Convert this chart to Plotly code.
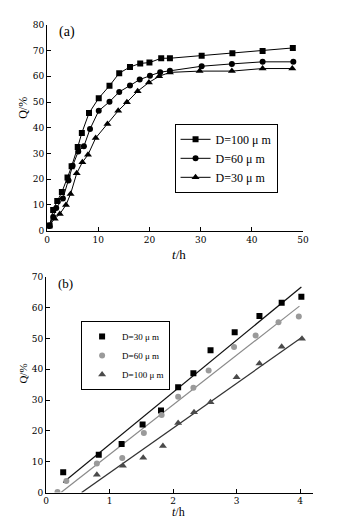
import plotly.graph_objects as go

# ---------- (a) release curves ----------
a_t100 = [0.5, 1.2, 2.0, 2.9, 4.0, 4.8, 6.0, 6.8, 8.2, 10.1, 12.2, 14.1, 16.2, 18.2, 20.0, 22.3, 24.0, 30.2, 36.2, 42.1, 48.0]
a_q100 = [2.0, 8.1, 11.5, 15.0, 20.7, 25.0, 32.5, 38.0, 45.7, 51.5, 56.3, 61.2, 63.6, 65.0, 65.3, 67.0, 67.0, 68.0, 68.9, 69.8, 71.0]
a_t60 = [0.5, 1.2, 1.8, 3.1, 4.2, 5.0, 6.1, 7.2, 8.4, 10.1, 12.2, 14.1, 16.2, 18.1, 20.1, 22.1, 24.0, 30.2, 36.1, 42.1, 48.1]
a_q60 = [1.8, 5.3, 8.8, 12.5, 19.5, 25.2, 30.8, 32.8, 39.5, 46.6, 50.1, 53.9, 56.4, 58.7, 60.2, 61.6, 62.1, 63.9, 64.8, 65.6, 65.6]
a_t30 = [0.4, 1.5, 2.5, 3.7, 4.6, 5.8, 6.9, 8.0, 9.5, 11.8, 13.9, 15.6, 17.7, 19.9, 21.9, 24.0, 29.8, 36.1, 42.1, 47.9]
a_q30 = [2.0, 4.7, 6.5, 10.0, 14.3, 22.3, 26.6, 29.5, 36.0, 41.5, 46.6, 49.9, 54.2, 57.6, 60.0, 61.5, 62.0, 62.0, 63.0, 63.0]

# ---------- (b) early-stage points and fitted lines ----------
b_t30 = [0.27, 0.83, 1.19, 1.52, 1.81, 2.08, 2.32, 2.59, 2.97, 3.36, 3.71, 4.02]
b_q30 = [6.6, 12.3, 15.8, 22.1, 26.6, 34.2, 38.7, 46.2, 52.0, 57.3, 61.6, 63.5]
b_t60 = [0.18, 0.32, 0.80, 1.20, 1.54, 1.82, 2.08, 2.32, 2.56, 2.96, 3.30, 3.66, 3.98]
b_q60 = [0.2, 3.8, 9.4, 11.2, 19.3, 25.2, 31.1, 34.0, 39.6, 47.2, 51.0, 55.3, 57.1]
b_t100 = [0.80, 1.21, 1.53, 1.84, 2.08, 2.33, 2.59, 3.00, 3.36, 3.71, 4.03]
b_q100 = [5.8, 8.7, 11.3, 15.1, 22.6, 26.1, 29.3, 37.4, 41.9, 47.3, 49.9]

fit_t30 = [0.27, 4.02]
fit_q30 = [3.3, 66.7]
fit_t60 = [0.24, 3.99]
fit_q60 = [0.1, 60.5]
fit_t100 = [0.56, 4.03]
fit_q100 = [0.0, 50.4]

a_names = ["D=100 μ m", "D=60 μ m", "D=30 μ m"]
b_names = ["D=30 μ m", "D=60 μ m", "D=100 μ m"]
a_xticks = [0, 10, 20, 30, 40, 50]
a_yticks = [0, 10, 20, 30, 40, 50, 60, 70, 80]
b_xticks = [0, 1, 2, 3, 4]
b_yticks = [0, 10, 20, 30, 40, 50, 60, 70]

FONT = "Liberation Serif"
TICKFONT = "DejaVu Serif"
W, H = 340, 520

fig = go.Figure()

# (a)
for t, q, name, sym, sz in [(a_t100, a_q100, a_names[0], "square", 6),
                            (a_t60, a_q60, a_names[1], "circle", 6),
                            (a_t30, a_q30, a_names[2], "triangle-up", 7)]:
    fig.add_trace(go.Scatter(x=t, y=q, name=name, mode="lines+markers",
                             line=dict(color="black", width=1),
                             marker=dict(symbol=sym, size=sz, color="black"),
                             xaxis="x", yaxis="y", legend="legend"))

# (b) fits
for t, q, col in [(fit_t30, fit_q30, "#111111"), (fit_t60, fit_q60, "#8a8a8a"), (fit_t100, fit_q100, "#333333")]:
    fig.add_trace(go.Scatter(x=t, y=q, mode="lines", line=dict(color=col, width=1.2),
                             showlegend=False, xaxis="x2", yaxis="y2", hoverinfo="skip"))
# (b) points
for t, q, name, sym, sz, col in [(b_t30, b_q30, b_names[0], "square", 6, "#000000"),
                                 (b_t60, b_q60, b_names[1], "circle", 6, "#9a9a9a"),
                                 (b_t100, b_q100, b_names[2], "triangle-up", 7, "#4a4a4a")]:
    fig.add_trace(go.Scatter(x=t, y=q, name=name, mode="markers",
                             marker=dict(symbol=sym, size=sz, color=col),
                             xaxis="x2", yaxis="y2", legend="legend2"))

axis_common = dict(showline=True, linecolor="black", linewidth=1, ticks="inside",
                   ticklen=4, tickcolor="black", showgrid=False, zeroline=False,
                   tickfont=dict(family=TICKFONT, size=9, color="black"))

fig.update_layout(
    width=W, height=H, margin=dict(l=0, r=0, t=0, b=0),
    paper_bgcolor="white", plot_bgcolor="white",
    font=dict(family=FONT, color="black"),
    xaxis=dict(domain=[37 / W, 300 / W], range=[0, 50], tickvals=a_xticks, anchor="y", **axis_common),
    yaxis=dict(domain=[1 - 222 / H, 1 - 12 / H], range=[0, 80], tickvals=a_yticks, anchor="x", **axis_common),
    xaxis2=dict(domain=[36 / W, 310 / W], range=[0, 4.2], tickvals=b_xticks, anchor="y2", **axis_common),
    yaxis2=dict(domain=[1 - 489 / H, 1 - 269 / H], range=[0, 70], tickvals=b_yticks, anchor="x2", **axis_common),
    legend=dict(x=168 / W, y=1 - 113 / H, xanchor="left", yanchor="top",
                bordercolor="black", borderwidth=1, bgcolor="white", itemwidth=30,
                font=dict(family=FONT, size=12, color="black"), tracegroupgap=0),
    legend2=dict(x=72 / W, y=1 - 314 / H, xanchor="left", yanchor="top",
                 bordercolor="black", borderwidth=1, bgcolor="white",
                 font=dict(family=FONT, size=9, color="black"), tracegroupgap=0, itemwidth=30),
    showlegend=True,
)

ann = [
    dict(text="(a)", x=58 / W, y=1 - 19 / H, font=dict(size=14)),
    dict(text="(b)", x=56 / W, y=1 - 276 / H, font=dict(size=13)),
    dict(text="Q/%", x=12 / W, y=1 - 97 / H, textangle=-90, font=dict(size=12)),
    dict(text="Q/%", x=12 / W, y=1 - 368 / H, textangle=-90, font=dict(size=11)),
    dict(text="<i>t</i>/h", x=173 / W, y=1 - 246 / H, font=dict(size=13)),
    dict(text="<i>t</i>/h", x=172 / W, y=1 - 509 / H, font=dict(size=12)),
]
for a in ann:
    a.update(xref="paper", yref="paper", showarrow=False, xanchor="center", yanchor="middle")
    a["font"].update(family=FONT, color="black")
    fig.add_annotation(**a)

fig.write_html("out.html")
